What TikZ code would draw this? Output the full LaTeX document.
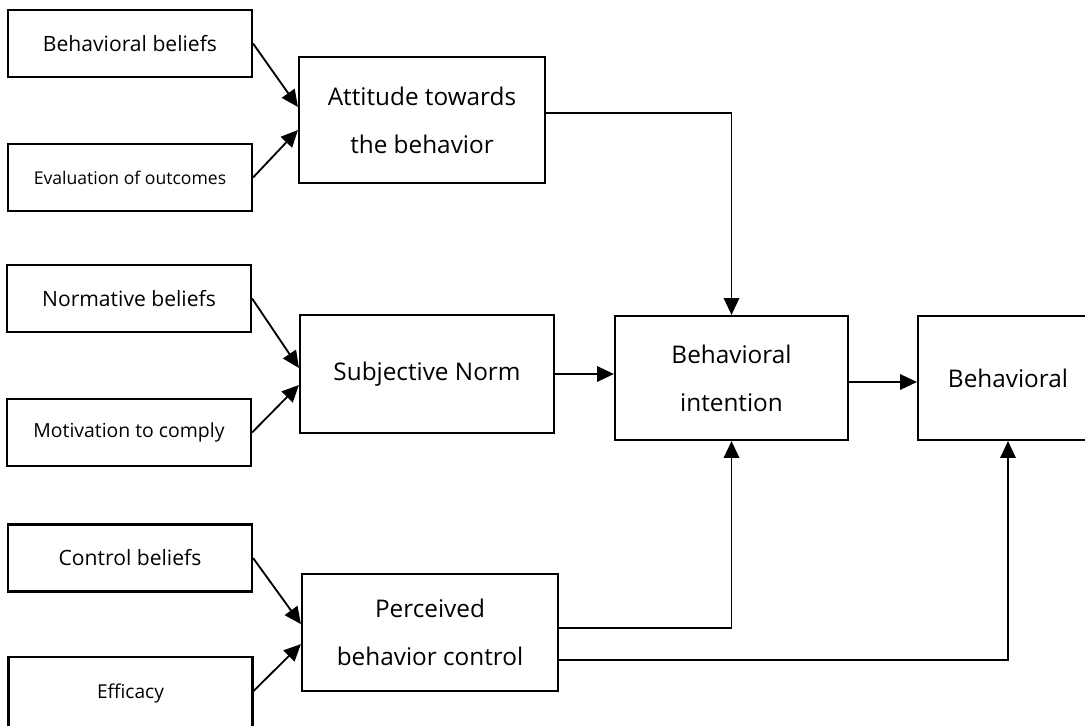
\documentclass[tikz,border=0pt]{standalone}
\usepackage{fontspec}
\setmainfont{Open Sans}
\usetikzlibrary{arrows.meta}

\begin{document}
\begin{tikzpicture}[x=0.025cm,y=-0.025cm,
  leftbox/.style={draw,line width=1.5pt,minimum width=6.1cm,minimum height=1.675cm,font=\fontsize{15}{17}\selectfont},
  midbox/.style={draw,line width=1.5pt,align=center,font=\fontsize{17.3}{34}\selectfont},
  arr/.style={line width=1.3pt,-{Triangle[length=12pt,width=11pt]}}]
\clip (0,0) rectangle (1085,725);
\node[leftbox] (bb) at (130,43.5) {Behavioral beliefs};
\node[leftbox,font=\fontsize{12.5}{15}\selectfont] (eo) at (130,177.5) {Evaluation of outcomes};
\node[leftbox] (nb) at (129,298.5) {Normative beliefs};
\node[leftbox,font=\fontsize{13.8}{15}\selectfont] (mc) at (129,432.5) {Motivation to comply};
\node[leftbox] (cb) at (130,558) {Control beliefs};
\node[leftbox,font=\fontsize{13.6}{15}\selectfont,minimum height=1.8cm] (ef) at (130.5,693) {Efficacy};
\node[midbox,minimum width=6.15cm,minimum height=3.15cm] (at) at (422,120) {Attitude towards\\the behavior};
\node[midbox,minimum width=6.35cm,minimum height=2.95cm] (sn) at (427,374) {Subjective Norm};
\node[midbox,minimum width=6.4cm,minimum height=2.925cm] (pbc) at (430,632.5) {Perceived\\behavior control};
\node[midbox,minimum width=5.825cm,minimum height=3.1cm] (bi) at (731.5,378) {Behavioral\\intention};
\node[midbox,minimum width=4.5cm,minimum height=3.1cm] (beh) at (1008,378) {Behavioral};
\draw[arr] (bb.east) -- ([yshift=0.325cm]at.west);
\draw[arr] (eo.east) -- ([yshift=-0.25cm]at.west);
\draw[arr] (nb.east) -- ([yshift=0.15cm]sn.west);
\draw[arr] (mc.east) -- ([yshift=-0.275cm]sn.west);
\draw[arr] (cb.east) -- ([yshift=0.21cm]pbc.west);
\draw[arr] ([yshift=0.05cm]ef.east) -- ([yshift=-0.29cm]pbc.west);
\draw[arr] ([yshift=0.175cm]at.east) -| (bi.north);
\draw[arr] (sn.east) -- (sn.east -| bi.west);
\draw[arr] ([yshift=-0.1cm]bi.east) -- ([yshift=-0.1cm]bi.east -| beh.west);
\draw[arr] ([yshift=0.11cm]pbc.east) -| (bi.south);
\draw[arr] ([yshift=-0.69cm]pbc.east) -| (beh.south);
\end{tikzpicture}
\end{document}
